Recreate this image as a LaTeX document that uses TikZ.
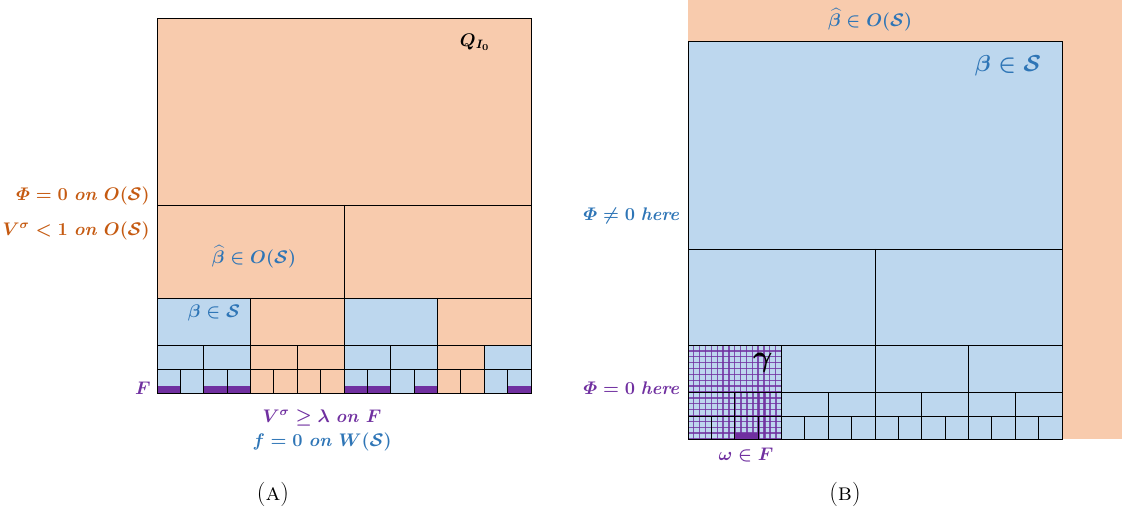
\documentclass[tikz,border=0pt]{standalone}
\usepackage{amsmath,amssymb}
\usepackage{bm}

\definecolor{peach}{HTML}{F8CBAD}
\definecolor{skyblue}{HTML}{BDD7EE}
\definecolor{txtorange}{HTML}{C55A11}
\definecolor{txtblue}{HTML}{2E75B6}
\definecolor{txtpurple}{HTML}{7030A0}

\tikzset{
  cell/.style={draw=black, line width=0.7pt},
  hatch/.style={draw=txtpurple, opacity=0.8, line width=0.9pt},
  lbl/.style={inner sep=0pt, font=\large\boldmath, scale=1.08, transform shape},
  biglbl/.style={inner sep=0pt, font=\Large\boldmath, scale=1.14, transform shape},
  caption/.style={inner sep=0pt, font=\LARGE},
}

\begin{document}
\begin{tikzpicture}[x=0.025cm, y=-0.025cm]
    \useasboundingbox (0,0) rectangle (1122,517);

    % (A): the cube Q_{I_0} and its dyadic children
    \fill[peach] (157,18) rectangle (531,393);
    \foreach \c [count=\i from 0] in {skyblue,peach,skyblue,peach}
        \fill[\c] (157+93.5*\i,298) rectangle ++(93.5,47);
    \foreach \c [count=\i from 0] in {skyblue,skyblue,peach,peach,skyblue,skyblue,peach,skyblue}
        \fill[\c] (157+46.75*\i,345) rectangle ++(46.75,24);
    \foreach \c [count=\i from 0] in {skyblue,skyblue,skyblue,skyblue,peach,peach,peach,peach,
                                      skyblue,skyblue,skyblue,skyblue,peach,peach,skyblue,skyblue}
        \fill[\c] (157+23.375*\i,369) rectangle ++(23.375,24);
    \foreach \k in {0,2,3,8,9,11,15}
        \fill[txtpurple] (157+23.375*\k,386) rectangle ++(23.375,7);

    \draw[cell] (157,18) rectangle (531,393);
    \foreach \y in {205,298,345,369}
        \draw[cell] (157,\y) -- (531,\y);
    \draw[cell] (344,205) -- (344,393);
    \foreach \i in {1,3}
        \draw[cell] (157+93.5*\i,298) -- (157+93.5*\i,393);
    \foreach \i in {1,3,5,7}
        \draw[cell] (157+46.75*\i,345) -- (157+46.75*\i,393);
    \foreach \i in {1,3,...,15}
        \draw[cell] (157+23.375*\i,369) -- (157+23.375*\i,393);

    \node[lbl] (qlabel) at (475,42) {$Q_{I_0}$};
    \node[lbl, txtorange, anchor=east] (phizero) at (150,196) {$\varPhi=0\;\mathit{on}\;O(\mathcal{S})$};
    \node[lbl, txtorange, anchor=east] (vsigma) at (150,231) {$V^{\sigma}<1\;\mathit{on}\;O(\mathcal{S})$};
    \node[lbl, txtblue] (betahat) at (254,257) {$\widehat{\beta}\in O(\mathcal{S})$};
    \node[lbl, txtblue] (beta) at (214,313) {$\beta\in\mathcal{S}$};
    \node[lbl, txtpurple, anchor=east] (flabel) at (151,388) {$F$};
    \node[lbl, txtpurple] (vlambda) at (322,418) {$V^{\sigma}\geq\lambda\;\mathit{on}\;F$};
    \node[lbl, txtblue] (fzero) at (322,442) {$f=0\;\mathit{on}\;W(\mathcal{S})$};
    \node[caption] (capa) at (273,494) {(\textsc{a})};

    % (B): zoom on the stopping cube
    \fill[peach] (688,0) rectangle (1122,439);
    \fill[skyblue] (688,41) rectangle (1062,439);

    \begin{scope}
        \clip (688,345) rectangle (781.5,439);
        \foreach \k in {0,...,16}
            \draw[hatch] (688+5.84*\k,345) -- ++(0,94);
        \foreach \k in {0,...,16}
            \draw[hatch] (688,345+5.875*\k) -- ++(93.5,0);
        \foreach \k in {0,...,7}
            \draw[hatch] (735.75+5.84*\k,392) -- ++(0,47);
    \end{scope}
    \fill[txtpurple] (735.25,433) rectangle ++(23.375,6);

    \draw[cell] (688,41) rectangle (1062,439);
    \foreach \y in {249,345,392,416}
        \draw[cell] (688,\y) -- (1062,\y);
    \draw[cell] (875,249) -- (875,439);
    \foreach \i in {1,3}
        \draw[cell] (688+93.5*\i,345) -- (688+93.5*\i,439);
    \foreach \i in {1,3,5,7}
        \draw[cell] (688+46.75*\i,392) -- (688+46.75*\i,439);
    \foreach \i in {1,3,...,15}
        \draw[cell] (688+23.375*\i,416) -- (688+23.375*\i,439);

    \node[lbl, txtblue] (betahatb) at (870,20) {$\widehat{\beta}\in O(\mathcal{S})$};
    \node[biglbl, txtblue] (betab) at (1008,66) {$\beta\in\mathcal{S}$};
    \node[lbl, txtblue, anchor=east] (phinot) at (681,216) {$\varPhi\neq 0\;\mathit{here}$};
    \node[biglbl, scale=1.3] (gammalbl) at (763,363) {$\gamma$};
    \node[lbl, txtpurple, anchor=east] (phizerob) at (681,388) {$\varPhi=0\;\mathit{here}$};
    \node[lbl, txtpurple] (omegalbl) at (746,455) {$\omega\in F$};
    \node[caption] (capb) at (845,494) {(\textsc{b})};
\end{tikzpicture}
\end{document}
